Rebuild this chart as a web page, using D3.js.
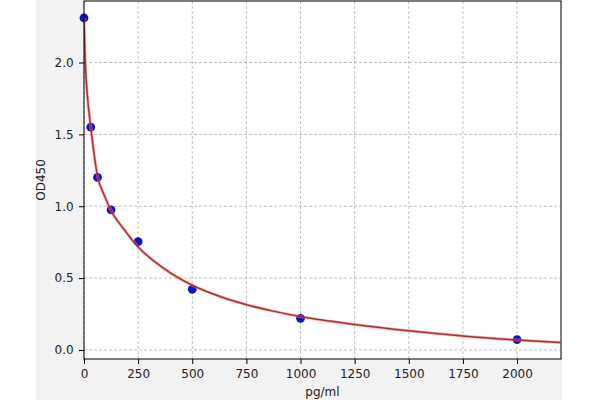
<!DOCTYPE html>
<html>
<head>
<meta charset="utf-8">
<script src="https://cdn.jsdelivr.net/npm/d3@7"></script>
<style>
  html, body { margin: 0; padding: 0; background: #fff; }
  svg { display: block; }
  svg text { font-family: "DejaVu Sans", sans-serif; }
</style>
</head>
<body>
<svg id="chart" width="600" height="400"></svg>
<script>
// standard points (pg/ml, OD450)
const stdConc = [0, 31.25, 62.5, 125, 250, 500, 1000, 2000];
const stdOD = [2.31, 1.55, 1.2, 0.975, 0.754, 0.422, 0.22, 0.072];

// fitted curve
const curveConc = [0, 3, 6, 15, 31.25, 62.5, 94, 125, 181, 250, 367, 500, 628, 751, 874, 1000, 1250, 1500, 1750, 2000, 2200];
const curveOD = [2.31, 2.14, 2.0, 1.78, 1.55, 1.21, 1.075, 0.97, 0.847, 0.717, 0.569, 0.45, 0.372, 0.315, 0.27, 0.232, 0.177, 0.133, 0.097, 0.069, 0.051];

const xTicks = [0, 250, 500, 750, 1000, 1250, 1500, 1750, 2000];
const yTicks = [0, 0.5, 1.0, 1.5, 2.0];

const plotLeft = 84;
const plotRight = 561;
const plotTop = 1;
const plotBottom = 359;

const svg = d3.select("#chart");

svg
  .append("rect")
  .attr("x", 36)
  .attr("y", 0)
  .attr("width", 526)
  .attr("height", 400)
  .attr("fill", "#f2f2f2");

svg
  .append("rect")
  .attr("x", plotLeft)
  .attr("y", plotTop)
  .attr("width", plotRight - plotLeft)
  .attr("height", plotBottom - plotTop)
  .attr("fill", "#fff");

const xScale = d3.scaleLinear().domain([0, 2203]).range([plotLeft, plotRight]);
const yScale = d3.scaleLinear().domain([-0.063, 2.428]).range([plotBottom, plotTop]);

// grid
svg
  .append("g")
  .selectAll("line")
  .data(xTicks)
  .enter()
  .append("line")
  .attr("x1", (d) => xScale(d))
  .attr("x2", (d) => xScale(d))
  .attr("y1", plotTop)
  .attr("y2", plotBottom)
  .attr("stroke", "#b0b0b0")
  .attr("stroke-width", 0.8)
  .attr("stroke-dasharray", "3,2");

svg
  .append("g")
  .selectAll("line")
  .data(yTicks)
  .enter()
  .append("line")
  .attr("x1", plotLeft)
  .attr("x2", plotRight)
  .attr("y1", (d) => yScale(d))
  .attr("y2", (d) => yScale(d))
  .attr("stroke", "#b0b0b0")
  .attr("stroke-width", 0.8)
  .attr("stroke-dasharray", "3,2");

const xAxis = d3.axisBottom(xScale).tickValues(xTicks).tickSize(5).tickSizeOuter(0).tickFormat(d3.format("d"));
const yAxis = d3.axisLeft(yScale).tickValues(yTicks).tickSize(5).tickSizeOuter(0).tickFormat(d3.format(".1f"));

const gx = svg
  .append("g")
  .attr("transform", `translate(0, ${plotBottom})`)
  .call(xAxis);
gx.select(".domain").remove();
gx.selectAll("text").attr("font-size", 12).attr("fill", "#222").attr("dy", "0.9em");

const gy = svg
  .append("g")
  .attr("transform", `translate(${plotLeft}, 0)`)
  .call(yAxis);
gy.select(".domain").remove();
gy.selectAll("text").attr("font-size", 12).attr("fill", "#222").attr("dx", "-0.2em");

// points under the line
svg
  .append("g")
  .selectAll("circle")
  .data(stdConc)
  .enter()
  .append("circle")
  .attr("cx", (d) => xScale(d))
  .attr("cy", (d, i) => yScale(stdOD[i]))
  .attr("r", 4.4)
  .attr("fill", "#1212c8");

svg
  .append("clipPath")
  .attr("id", "plotClip")
  .append("rect")
  .attr("x", plotLeft)
  .attr("y", plotTop)
  .attr("width", plotRight - plotLeft)
  .attr("height", plotBottom - plotTop);

const line = d3
  .line()
  .x((d) => xScale(d))
  .y((d, i) => yScale(curveOD[i]))
  .curve(d3.curveMonotoneX);

svg
  .append("path")
  .attr("d", line(curveConc))
  .attr("clip-path", "url(#plotClip)")
  .attr("fill", "none")
  .attr("stroke", "#f08080")
  .attr("stroke-opacity", 0.6)
  .attr("stroke-width", 3);

svg
  .append("path")
  .attr("d", line(curveConc))
  .attr("clip-path", "url(#plotClip)")
  .attr("fill", "none")
  .attr("stroke", "#9e1a1a")
  .attr("stroke-opacity", 0.85)
  .attr("stroke-width", 1.5);

// frame
svg
  .append("rect")
  .attr("x", plotLeft)
  .attr("y", plotTop)
  .attr("width", plotRight - plotLeft)
  .attr("height", plotBottom - plotTop)
  .attr("fill", "none")
  .attr("stroke", "#000")
  .attr("stroke-width", 1);

svg
  .append("text")
  .attr("x", (plotLeft + plotRight) / 2)
  .attr("y", 396)
  .attr("text-anchor", "middle")
  .attr("font-size", 12)
  .attr("fill", "#222")
  .text("pg/ml");

svg
  .append("text")
  .attr("transform", `translate(45, ${(plotTop + plotBottom) / 2}) rotate(-90)`)
  .attr("text-anchor", "middle")
  .attr("font-size", 12)
  .attr("fill", "#222")
  .text("OD450");
</script>
</body>
</html>
